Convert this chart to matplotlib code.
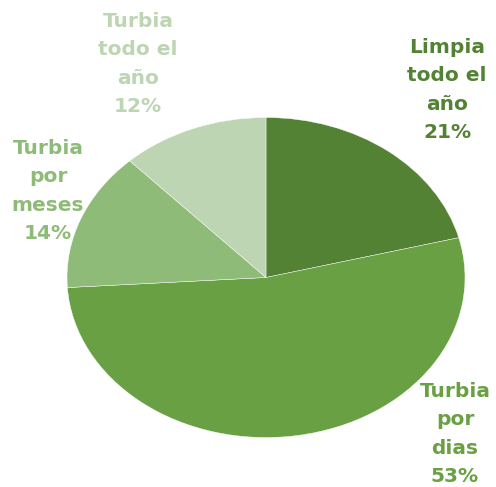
import matplotlib.pyplot as plt

labels = ['Limpia\ntodo el\naño', 'Turbia\npor\ndias', 'Turbia\npor\nmeses', 'Turbia\ntodo el\naño']
values = [21, 53, 14, 12]
colors = ['#548235', '#69a043', '#8fbb79', '#bdd5b3']

W, H = 496, 487
fig = plt.figure(figsize=(W / 100, H / 100), dpi=100)

# pie is drawn as an ellipse: centre (266, 277.5), semi axes 199 x 160 px
cx, cy, a, b = 266, 277.5, 199, 160
ax = fig.add_axes([(cx - a) / W, (H - cy - b) / H, 2 * a / W, 2 * b / H])
wedges, _ = ax.pie(values, colors=colors, startangle=90, counterclock=False,
                   wedgeprops=dict(edgecolor='white', linewidth=0.3))
ax.set_aspect('auto')
ax.set_xlim(-1, 1)
ax.set_ylim(-1, 1)
ax.axis('off')

# label centres in pixels
label_pos = [(447, 90), (455, 434), (48, 191), (138, 64)]
for lab, v, c, (px, py) in zip(labels, values, colors, label_pos):
    fig.text(px / W, 1 - py / H, f'{lab}\n{v}%', color=c, ha='center', va='center',
             fontsize=14.5, fontweight='bold', family='DejaVu Sans', linespacing=1.62)

fig.savefig('out.png', dpi=100)
